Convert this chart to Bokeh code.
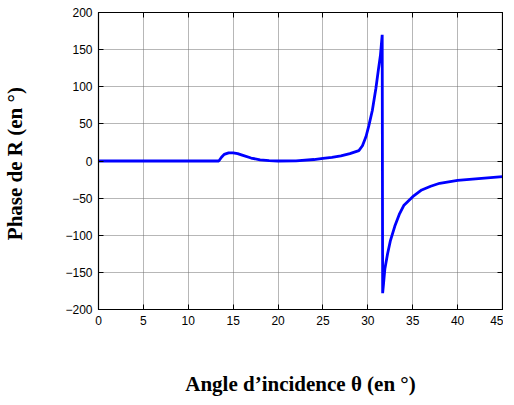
from bokeh.plotting import figure
from bokeh.models import Range1d, LinearAxis, FixedTicker
from bokeh.embed import file_html
from bokeh.resources import INLINE

# Angle of incidence (degrees)
theta = [0, 13.4, 13.7, 14.0, 14.5, 15.0, 15.5, 16, 17, 18, 19, 20, 22, 24, 25, 26,
         27, 28, 29, 29.4, 29.8, 30.1, 30.5, 30.9, 31.2, 31.4, 31.6, 31.65, 31.75,
         31.9, 32.2, 32.5, 33, 33.5, 34, 35, 36, 37, 38, 40, 42, 45]
# Phase of R (degrees)
phase = [0, 0, 5, 9, 11, 11, 10, 8, 4, 1.5, 0.5, 0, 0.3, 2, 3.6, 5,
         7, 10, 14, 20.6, 33, 47, 68, 98, 125, 142, 170, -178, -165,
         -145, -125, -108, -88, -72, -60, -48, -39, -34, -30, -26, -24, -21]

x_ticks = [0, 5, 10, 15, 20, 25, 30, 35, 40, 45]
y_ticks = [-200, -150, -100, -50, 0, 50, 100, 150, 200]

p = figure(frame_width=404, frame_height=297, output_backend="svg", toolbar_location=None,
           x_range=Range1d(0, 45), y_range=Range1d(-200, 200),
           min_border_left=95, min_border_top=12, min_border_right=1,
           min_border_bottom=80)

p.line(theta, phase, line_color="#0000FF", line_width=2.8)

p.outline_line_color = "black"
p.outline_line_width = 1.2

for ax in (p.xaxis[0], p.yaxis[0]):
    ax.major_tick_in = 5
    ax.major_tick_out = 0
    ax.minor_tick_in = 0
    ax.minor_tick_out = 0
    ax.axis_line_color = "black"
    ax.major_tick_line_color = "black"
    ax.major_label_text_font = "Liberation Sans"
    ax.major_label_text_font_size = "12px"
    ax.major_label_text_color = "black"
    ax.axis_label_text_font = "Liberation Serif"
    ax.axis_label_text_font_style = "bold"
    ax.axis_label_text_font_size = "21px"
    ax.axis_label_text_color = "black"
    ax.major_label_standoff = 6

p.xaxis[0].ticker = FixedTicker(ticks=x_ticks)
p.yaxis[0].ticker = FixedTicker(ticks=y_ticks)
p.xaxis[0].axis_label = "Angle d\u2019incidence \u03b8 (en \u00b0)"
p.yaxis[0].axis_label = "Phase de R (en  \u00b0)"
p.xaxis[0].axis_label_standoff = 44
p.yaxis[0].axis_label_standoff = 35

# mirrored axes (inward ticks only) on top and right
top = LinearAxis(ticker=FixedTicker(ticks=x_ticks),
                 major_label_overrides={t: "" for t in x_ticks},
                 major_label_standoff=0,
                 major_tick_in=5, major_tick_out=0, minor_tick_in=0, minor_tick_out=0)
right = LinearAxis(ticker=FixedTicker(ticks=y_ticks),
                   major_label_overrides={t: "" for t in y_ticks},
                   major_label_standoff=0,
                   major_tick_in=5, major_tick_out=0, minor_tick_in=0, minor_tick_out=0)
p.add_layout(top, "above")
p.add_layout(right, "right")

p.xgrid.ticker = FixedTicker(ticks=x_ticks)
p.ygrid.ticker = FixedTicker(ticks=y_ticks)
p.grid.grid_line_color = "#6e6e6e"
p.grid.grid_line_dash = "1 1"
p.grid.grid_line_width = 1

open("out.html", "w").write(file_html(p, INLINE))
